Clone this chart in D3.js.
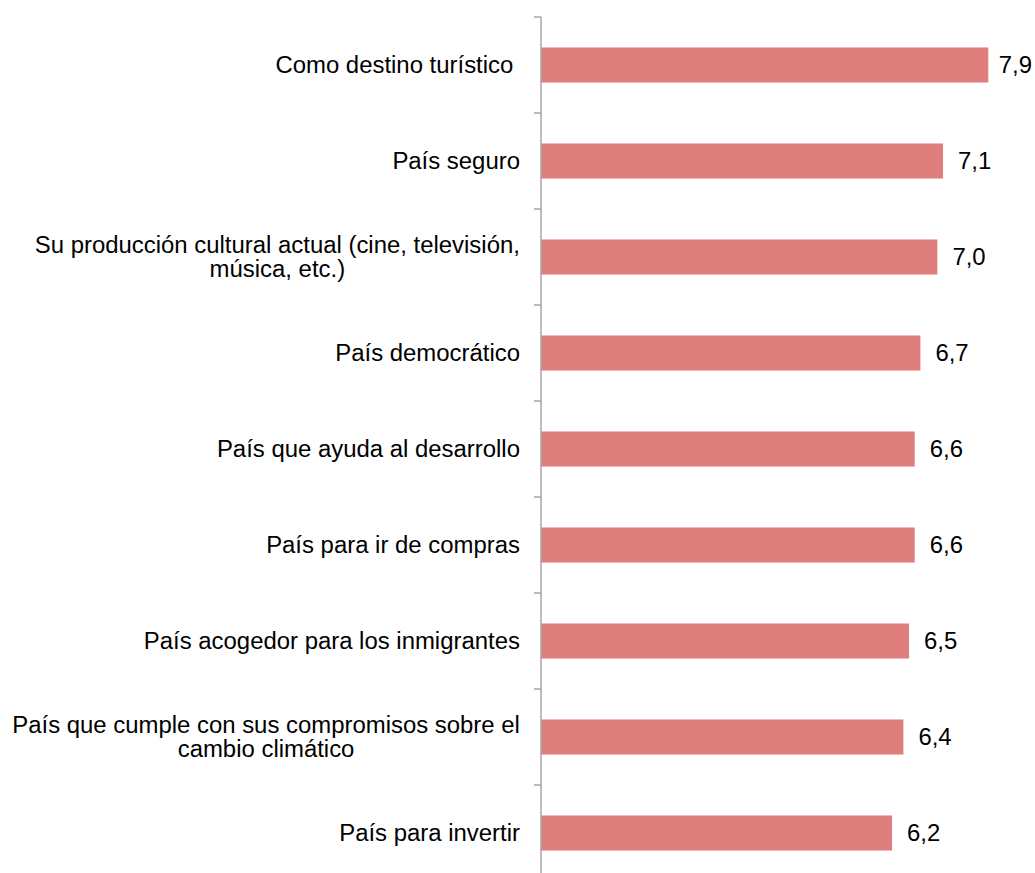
<!DOCTYPE html>
<html>
<head>
<meta charset="utf-8">
<script src="https://cdn.jsdelivr.net/npm/d3@7"></script>
<style>
  body { margin: 0; background: #fff; }
  svg text { font-family: "Liberation Sans", Arial, sans-serif; fill: #000; white-space: pre; }
</style>
</head>
<body>
<div id="chart"></div>
<script>
// categories (explicit line breaks as in the original labels)
var categories = [
    "Como destino turístico ",
    "País seguro",
    "Su producción cultural actual (cine, televisión,\nmúsica, etc.)",
    "País democrático",
    "País que ayuda al desarrollo",
    "País para ir de compras",
    "País acogedor para los inmigrantes",
    "País que cumple con sus compromisos sobre el\ncambio climático",
    "País para invertir"
];
var values = [7.9, 7.1, 7.0, 6.7, 6.6, 6.6, 6.5, 6.4, 6.2];
var valueLabels = ["7,9", "7,1", "7,0", "6,7", "6,6", "6,6", "6,5", "6,4", "6,2"];

var width = 1035, height = 873;
var axisX = 541;

var svg = d3.select('#chart').append('svg')
    .attr('width', width)
    .attr('height', height);

var x = d3.scaleLinear()
    .domain([0, 8])
    .range([axisX, axisX + 453]);

var y = d3.scaleBand()
    .domain(categories)
    .range([17, 881])
    .paddingInner(0.635)
    .paddingOuter(0.3175);

var fontSize = 23;
var stretch = 1.04; // text in the source is slightly wide

// bars
svg.append('g').selectAll('rect')
    .data(categories)
    .enter().append('rect')
    .attr('x', x(0))
    .attr('y', function(d) { return y(d); })
    .attr('width', function(d, i) { return x(values[i]) - x(0); })
    .attr('height', y.bandwidth())
    .attr('fill', '#de7f7e');

// axis line + ticks between categories
var gap = (y.step() - y.bandwidth()) / 2;
var bounds = categories.map(function(c) { return y(c) - gap; });
bounds.push(y(categories[categories.length - 1]) + y.bandwidth() + gap);

var ax = svg.append('g');
ax.append('line')
    .attr('x1', axisX).attr('x2', axisX)
    .attr('y1', bounds[0]).attr('y2', height)
    .attr('stroke', '#a6a6a6')
    .attr('stroke-width', 1.5);
ax.selectAll('.tick')
    .data(bounds)
    .enter().append('line')
    .attr('class', 'tick')
    .attr('x1', axisX - 7).attr('x2', axisX)
    .attr('y1', function(d) { return d; })
    .attr('y2', function(d) { return d; })
    .attr('stroke', '#a6a6a6')
    .attr('stroke-width', 1.5);

// category labels: block right-aligned, lines centred within the block
var labelRight = 520;
var lineH = 24;
var lbl = svg.append('g');
categories.forEach(function(c) {
    var lines = c.split('\n');
    var cy = y(c) + y.bandwidth() / 2;
    var g = lbl.append('g');
    var texts = lines.map(function(line, k) {
        return g.append('text')
            .attr('font-size', fontSize)
            .attr('text-anchor', 'middle')
            .attr('y', cy + (k - (lines.length - 1) / 2) * lineH)
            .attr('dy', '0.35em')
            .text(line);
    });
    var w = d3.max(texts, function(t) { return t.node().getComputedTextLength(); }) * stretch;
    var cx = labelRight - w / 2;
    texts.forEach(function(t) {
        t.attr('x', 0)
         .attr('transform', 'translate(' + cx + ',0) scale(' + stretch + ',1)');
    });
});

// value labels, kept inside the right edge
var vl = svg.append('g');
categories.forEach(function(d, i) {
    var t = vl.append('text')
        .attr('font-size', fontSize)
        .attr('dy', '0.35em')
        .text(valueLabels[i]);
    var w = t.node().getComputedTextLength() * stretch;
    var tx = Math.min(x(values[i]) + 15, width - 3 - w);
    t.attr('transform', 'translate(' + tx + ',' + (y(d) + y.bandwidth() / 2) + ') scale(' + stretch + ',1)');
});
</script>
</body>
</html>
